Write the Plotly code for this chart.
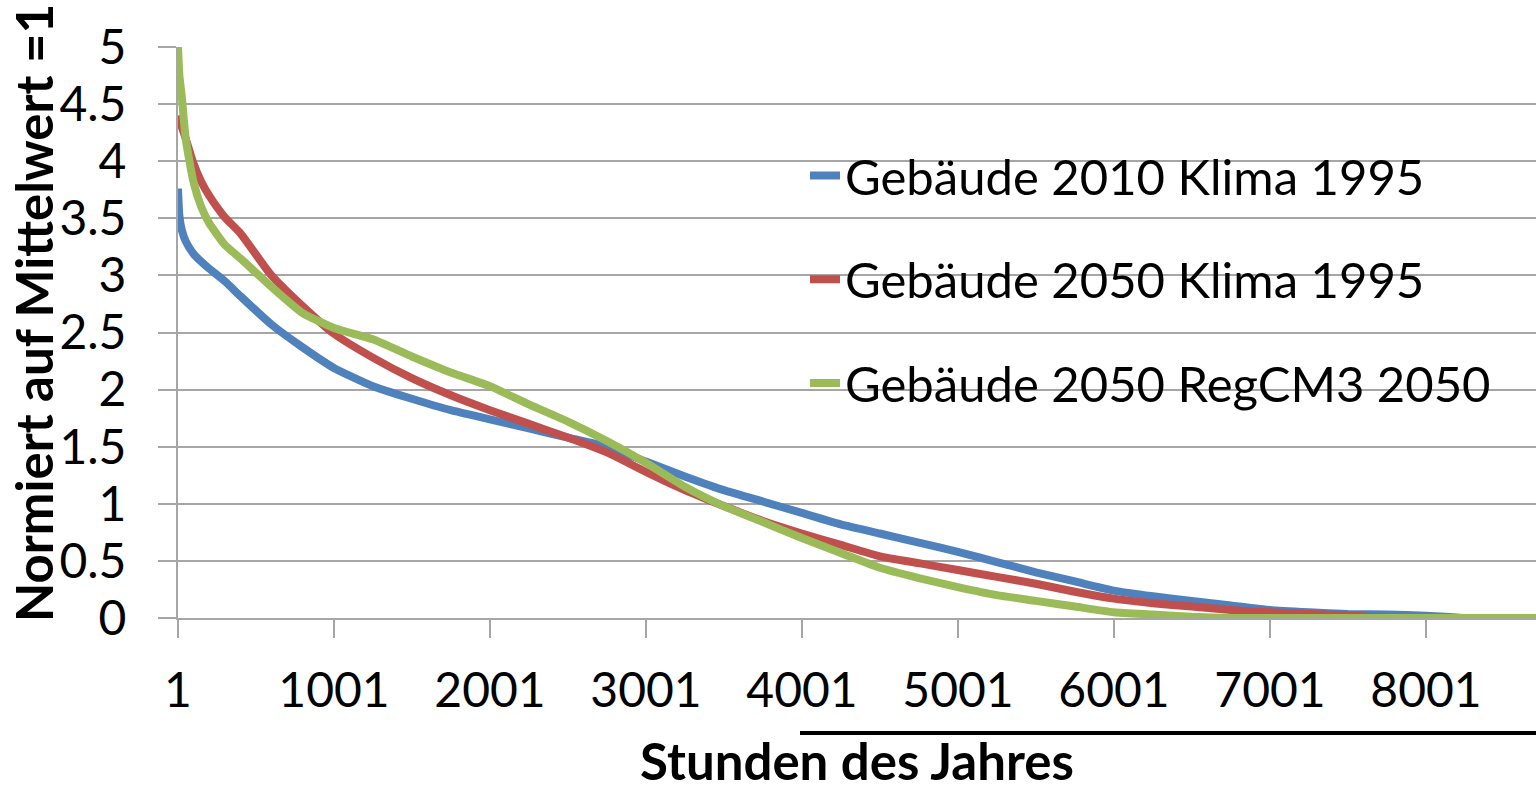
import plotly.graph_objects as go

# ---- data ----
hours = [1, 10, 25, 50, 100, 150, 200, 300, 400, 600, 800, 1000, 1250, 1500, 1750,
         2000, 2250, 2500, 2750, 3000, 3250, 3500, 3750, 4000, 4250, 4500, 4750,
         5000, 5250, 5500, 5750, 6000, 6250, 6500, 6750, 7000, 7250, 7500, 7750,
         8000, 8250, 8760]

geb2010_klima1995 = [3.76, 3.52, 3.40, 3.30, 3.19, 3.12, 3.06, 2.95, 2.82, 2.57, 2.37,
                     2.19, 2.03, 1.92, 1.82, 1.74, 1.66, 1.58, 1.50, 1.37, 1.24, 1.12,
                     1.02, 0.92, 0.82, 0.74, 0.66, 0.58, 0.49, 0.40, 0.32, 0.24, 0.19,
                     0.15, 0.11, 0.07, 0.05, 0.035, 0.03, 0.02, 0.0, 0.0]

geb2050_klima1995 = [4.40, 4.35, 4.30, 4.20, 3.98, 3.82, 3.70, 3.51, 3.37, 3.00, 2.73,
                     2.49, 2.28, 2.10, 1.95, 1.82, 1.70, 1.58, 1.45, 1.28, 1.12, 0.98,
                     0.85, 0.74, 0.64, 0.54, 0.48, 0.42, 0.36, 0.30, 0.23, 0.17, 0.13,
                     0.10, 0.07, 0.05, 0.035, 0.025, 0.0, 0.0, 0.0, 0.0]

geb2050_regcm3 = [5.0, 4.75, 4.57, 4.20, 3.82, 3.60, 3.46, 3.27, 3.15, 2.90, 2.67,
                  2.54, 2.44, 2.29, 2.15, 2.03, 1.87, 1.72, 1.55, 1.36, 1.15, 0.98,
                  0.84, 0.70, 0.57, 0.44, 0.35, 0.27, 0.20, 0.15, 0.10, 0.05, 0.03,
                  0.01, 0.0, 0.0, 0.0, 0.0, 0.0, 0.0, 0.0, 0.0]

series_names = ["Gebäude 2010 Klima 1995", "Gebäude 2050 Klima 1995",
                "Gebäude 2050 RegCM3 2050"]
series_colors = ["#4F81BD", "#C0504D", "#9BBB59"]

x_tickvals = [1, 1001, 2001, 3001, 4001, 5001, 6001, 7001, 8001]
x_ticktext = ["1", "1001", "2001", "3001", "4001", "5001", "6001", "7001", "8001"]
y_tickvals = [0, 0.5, 1, 1.5, 2, 2.5, 3, 3.5, 4, 4.5, 5]
y_ticktext = ["0", "0.5", "1", "1.5", "2", "2.5", "3", "3.5", "4", "4.5", "5"]

x_title = "Stunden des Jahres"
y_title = "Normiert auf Mittelwert =1"

FONT = "Lato"
GRID = "#A6A6A6"

fig = go.Figure()
for name, vals, col in zip(series_names,
                           [geb2010_klima1995, geb2050_klima1995, geb2050_regcm3],
                           series_colors):
    fig.add_trace(go.Scatter(x=hours, y=vals, mode="lines", name=name,
                             legendgroup=name,
                             line=dict(color=col, width=8, shape="spline",
                                       smoothing=0.5)))

fig.update_layout(
    width=1536, height=791,
    margin=dict(l=178, r=0, t=47, b=173),
    paper_bgcolor="white", plot_bgcolor="white",
    font=dict(family=FONT, size=48, color="black"),
    showlegend=True,
    legend=dict(x=0.4617, xanchor="left", y=0.842, yanchor="top",
                font=dict(family=FONT, size=49, color="black"),
                tracegroupgap=37, bgcolor="rgba(0,0,0,0)", itemwidth=30),
    xaxis=dict(range=[1, 8706], tickvals=x_tickvals, ticktext=x_ticktext,
               automargin=False,
               showgrid=False, zeroline=False, showline=True, linecolor=GRID,
               linewidth=2, ticks="outside", ticklen=18, tickwidth=2,
               tickcolor=GRID, ticklabelstandoff=11,
               tickfont=dict(family=FONT, size=48),
               title=dict(text="<b>" + x_title + "</b>",
                          font=dict(family=FONT, size=51), standoff=45)),
    yaxis=dict(range=[0, 5], tickvals=y_tickvals, ticktext=y_ticktext,
               automargin=False,
               showgrid=True, gridcolor=GRID, gridwidth=2, zeroline=False,
               showline=True, linecolor=GRID, linewidth=2,
               ticks="outside", ticklen=18, tickwidth=2, tickcolor=GRID,
               ticklabelstandoff=22, tickfont=dict(family=FONT, size=48)),
    annotations=[dict(text="<b>" + y_title + "</b>", xref="paper", yref="paper",
                      x=(33 - 178) / 1358, y=(618 - 313) / 571,
                      xanchor="center", yanchor="middle", textangle=-90,
                      showarrow=False, font=dict(family=FONT, size=51))],
    shapes=[dict(type="line", xref="paper", yref="paper",
                 x0=(800 - 178) / 1358, x1=1.0,
                 y0=(618 - 733) / 571, y1=(618 - 733) / 571,
                 line=dict(color="black", width=4))],
)

fig.write_html("out.html", config={"displayModeBar": False},
               post_script="document.body.style.margin='0';document.body.style.overflow='hidden';")
